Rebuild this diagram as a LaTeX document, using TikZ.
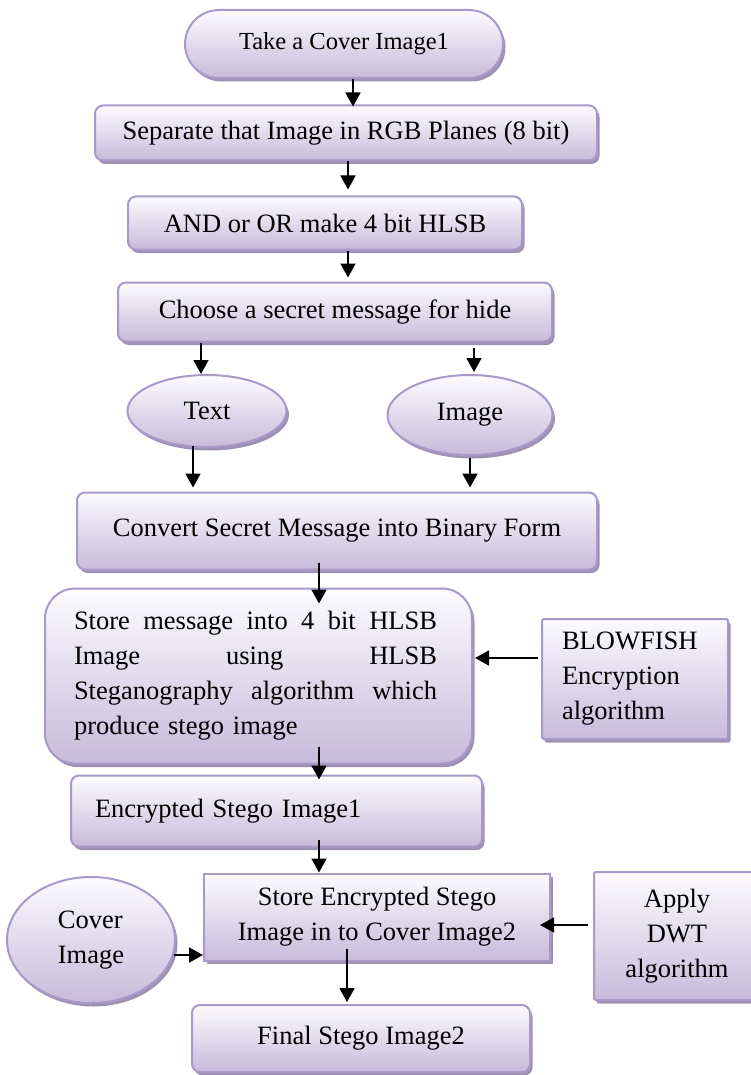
\documentclass[tikz,border=0pt]{standalone}
\usepackage{fontspec}
\setmainfont{Liberation Serif}
\usetikzlibrary{shadows,arrows.meta,calc,shapes.geometric}
\definecolor{topcol}{HTML}{FCFBFE}
\definecolor{botcol}{HTML}{C6BBDB}
\definecolor{bordcol}{HTML}{A899C8}
\definecolor{shadcol}{HTML}{9386AC}
\newcommand{\jline}[1]{\leavevmode\hbox to 363pt{#1}}
\begin{document}
\begin{tikzpicture}[x=1pt,y=-1pt,
 flowbase/.style={draw=bordcol, line width=2pt, top color=topcol, bottom color=botcol,
   drop shadow={shadow xshift=2.5pt,shadow yshift=-3.5pt,fill=shadcol,opacity=0.9},
   font=\fontsize{26.5}{35}\selectfont, inner sep=0pt},
 boxr/.style={flowbase, rectangle, rounded corners=8pt},
 boxs/.style={flowbase, rectangle, rounded corners=2pt},
 oval/.style={flowbase, ellipse},
 arr/.style={line width=1.8pt, -{Triangle[width=15pt,length=14pt]}},
]
\useasboundingbox (0,0) rectangle (750,1075);

\node[boxr, rounded corners=34pt, minimum width=318pt, minimum height=68pt,
  font=\fontsize{24.5}{28}\selectfont] (take) at (344,44) {Take a Cover Image1};
\node[boxr, minimum width=502pt, minimum height=55pt] (sep) at (346,133)
  {Separate that Image in RGB Planes (8 bit)};
\node[boxr, minimum width=394pt, minimum height=53pt] (and) at (325,223)
  {AND or OR make 4 bit HLSB};
\node[boxr, minimum width=434pt, minimum height=59pt] (choose) at (335,312)
  {Choose a secret message for hide};
\node[oval, minimum width=159pt, minimum height=72pt] (text) at (207,411) {Text};
\node[oval, minimum width=165pt, minimum height=80pt] (image) at (470,415) {Image};
\node[boxr, minimum width=520pt, minimum height=77pt] (convert) at (337,531)
  {Convert Secret Message into Binary Form};
\node[boxr, rounded corners=30pt, minimum width=427pt, minimum height=175pt,
  text width=369pt, align=left] (store) at (258.5,676)
  {\jline{Store\hfill message\hfill into\hfill 4\hfill bit\hfill HLSB}\\
   \jline{Image\hfill using\hfill HLSB}\\
   \jline{Steganography\hfill algorithm\hfill which}\\
   produce stego image};
\node[boxs, minimum width=186pt, minimum height=120pt, text width=146pt,
  align=left] (blow) at (635,679) {BLOWFISH\\Encryption\\algorithm};
\node[boxr, minimum width=411pt, minimum height=71pt, text width=363pt,
  align=left] (enc) at (276.5,811) {Encrypted Stego Image1};
\node[flowbase, rectangle, minimum width=346pt, minimum height=87pt,
  align=center] (senc) at (377,917) {Store Encrypted Stego\\Image in to Cover Image2};
\node[oval, minimum width=168pt, minimum height=126pt, align=left] (cover)
  at (91,940) {Cover\\Image};
\node[boxs, minimum width=166pt, minimum height=128pt, align=center] (dwt)
  at (677,936) {Apply\\DWT\\algorithm};
\node[boxr, minimum width=338pt, minimum height=67pt] (final) at (361,1038.5)
  {Final Stego Image2};

% connectors
\draw[arr] (take.south -| 353,0) -- ($(sep.north -| 353,0)+(0,2)$);
\draw[arr] (sep.south -| 348,0) -- ($(and.north -| 348,0)+(0,-6)$);
\draw[arr] (and.south -| 348,0) -- ($(choose.north -| 348,0)+(0,-4)$);
\draw[arr] (choose.south -| 201,0) -- (text.north -| 201,0);
\draw[arr] ($(choose.south -| 474,0)+(0,5)$) -- ($(image.north -| 474,0)+(0,-2)$);
\draw[arr] ($(text.south -| 193,0)+(0,-2)$) -- ($(convert.north -| 193,0)+(0,-4)$);
\draw[arr] ($(image.south -| 470,0)+(0,2)$) -- ($(convert.north -| 470,0)+(0,-4)$);
\draw[arr] ($(convert.south -| 319,0)+(0,-8)$) -- ($(store.north -| 319,0)+(0,16)$);
\draw[arr] ($(blow.west |- 0,658)+(-3,0)$) -- ($(store.east |- 0,658)+(2,0)$);
\draw[arr] ($(store.south -| 319,0)+(0,-18)$) -- ($(enc.north -| 319,0)+(0,5)$);
\draw[arr] ($(enc.south -| 319,0)+(0,-8)$) -- (senc.north -| 319,0);
\draw[arr] ($(cover.east |- 0,955)+(-2,0)$) -- (senc.west |- 0,955);
\draw[arr] ($(dwt.west |- 0,925)+(-5,0)$) -- ($(senc.east |- 0,925)+(-11,0)$);
\draw[arr] ($(senc.south -| 347,0)+(0,-13)$) -- ($(final.north -| 347,0)+(0,-2)$);
\end{tikzpicture}
\end{document}
